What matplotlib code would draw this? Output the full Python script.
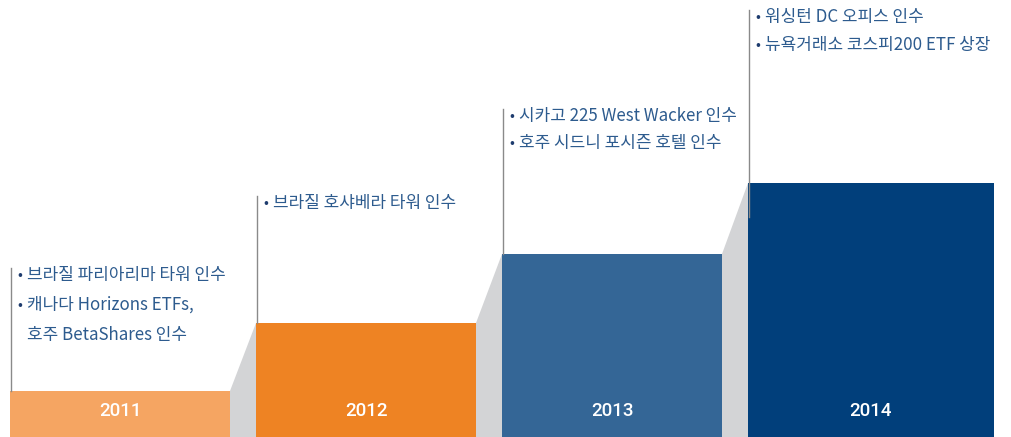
import matplotlib
matplotlib.use("Agg")
import matplotlib.pyplot as plt
from matplotlib.patches import Polygon

plt.rcParams['font.family'] = ['Noto Sans CJK KR', 'DejaVu Sans']

# ---- data ----
years = ["2011", "2012", "2013", "2014"]
levels = [46, 114, 183, 254]          # step heights
events = [
    ["브라질 파리아리마 타워 인수", "캐나다 Horizons ETFs,", "호주 BetaShares 인수"],
    ["브라질 호샤베라 타워 인수"],
    ["시카고 225 West Wacker 인수", "호주 시드니 포시즌 호텔 인수"],
    ["워싱턴 DC 오피스 인수", "뉴욕거래소 코스피200 ETF 상장"],
]
bullets = [[True, True, False], [True], [True, True], [True, True]]

# ---- layout / style ----
colors = ["#F5A562", "#EE8323", "#346696", "#013F7B"]
gray = "#D3D4D6"
text_color = "#2D5B8E"
bullet_color = "#1E3C6E"
lefts = [10, 256, 502, 748]
widths = [220, 220, 220, 246]
first_line = [162, 234, 321, 420]
line_gap = [30, 28, 27, 28]

W, H = 1011, 437
fig = plt.figure(figsize=(W / 100, H / 100), dpi=100)
ax = fig.add_axes([0, 0, 1, 1])
ax.set_xlim(0, W)
ax.set_ylim(0, H)
ax.axis("off")

# connectors
for i in range(len(years) - 1):
    x0 = lefts[i] + widths[i]
    x1 = lefts[i + 1]
    poly = Polygon([(x0, 0), (x0, levels[i]), (x1, levels[i + 1]), (x1, 0)],
                   closed=True, facecolor=gray, edgecolor="none", zorder=1)
    ax.add_patch(poly)

# bars
ax.bar(lefts, levels, width=widths, align="edge", color=colors, zorder=2, linewidth=0)

for i, y in enumerate(years):
    ax.text(lefts[i] + widths[i] / 2, 26, y, color="white", fontsize=13.5,
            ha="center", va="center", family=["Roboto", "DejaVu Sans"],
            weight="medium", zorder=3)

# vertical lines and text
for i in range(len(years)):
    top = first_line[i] + 7
    bottom = levels[i] if i < 3 else levels[i] - 34
    ax.plot([lefts[i] + 1, lefts[i] + 1], [bottom, top], color="#8a8a8a", lw=1.0, zorder=4)
    for j, line in enumerate(events[i]):
        yy = first_line[i] - j * line_gap[i]
        if bullets[i][j]:
            ax.text(lefts[i] + 7, yy, "•", color=bullet_color, fontsize=10.5,
                    ha="left", va="center", zorder=4)
        ax.text(lefts[i] + 17, yy, line, color=text_color, fontsize=12.2,
                ha="left", va="center", zorder=4)

fig.savefig("out.png", dpi=100)
